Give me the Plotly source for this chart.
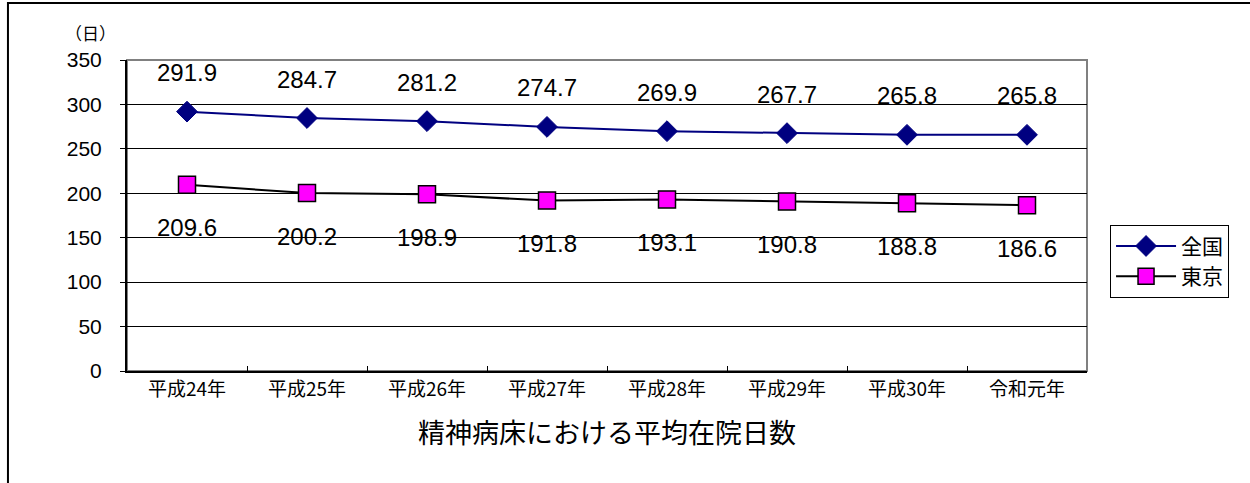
import plotly.graph_objects as go

categories = ["平成24年", "平成25年", "平成26年", "平成27年", "平成28年", "平成29年", "平成30年", "令和元年"]
zenkoku = [291.9, 284.7, 281.2, 274.7, 269.9, 267.7, 265.8, 265.8]
tokyo = [209.6, 200.2, 198.9, 191.8, 193.1, 190.8, 188.8, 186.6]
y_ticks = [0, 50, 100, 150, 200, 250, 300, 350]

NUM_FONT = "Liberation Sans, Arial, Noto Sans CJK JP, sans-serif"
CJK_FONT = "Noto Sans CJK JP, sans-serif"

fig = go.Figure()
fig.add_trace(go.Scatter(
    x=categories, y=zenkoku, name="全国", mode="lines+markers",
    line=dict(color="#000080", width=2),
    marker=dict(symbol="diamond", size=16, color="#000080", line=dict(color="#000080", width=1)),
))
fig.add_trace(go.Scatter(
    x=categories, y=tokyo, name="東京", mode="lines+markers",
    line=dict(color="#000000", width=2),
    marker=dict(symbol="square", size=17, color="#FF00FF", line=dict(color="#000000", width=1.5)),
))

annotations = []
for c, v in zip(categories, zenkoku):
    annotations.append(dict(x=c, y=v, text=f"{v:.1f}", showarrow=False, yshift=39,
                            font=dict(family=NUM_FONT, size=24, color="#000")))
for c, v in zip(categories, tokyo):
    annotations.append(dict(x=c, y=v, text=f"{v:.1f}", showarrow=False, yshift=-43,
                            font=dict(family=NUM_FONT, size=24, color="#000")))
annotations.append(dict(xref="paper", yref="paper", x=-0.0385, y=1.09, text="（日）", showarrow=False,
                        xanchor="center", yanchor="middle",
                        font=dict(family=CJK_FONT, size=17, color="#000")))

fig.update_layout(
    width=1250, height=483,
    margin=dict(l=127, r=163, t=60, b=112),
    paper_bgcolor="white", plot_bgcolor="white",
    showlegend=True,
    legend=dict(x=1.024, y=0.47, xanchor="left", yanchor="top",
                bordercolor="#000", borderwidth=1, bgcolor="white",
                font=dict(family=CJK_FONT, size=21, color="#000"),
                tracegroupgap=0, itemwidth=60),
    annotations=annotations,
    xaxis=dict(
        type="category", range=[-0.5, 7.5],
        showline=True, linecolor="#000", linewidth=2,
        ticks="inside", tickson="boundaries", ticklen=5, tickcolor="#000",
        showgrid=False, zeroline=False,
        tickfont=dict(family=CJK_FONT, size=19, color="#000"),
        title=dict(text="精神病床における平均在院日数", font=dict(family=CJK_FONT, size=27, color="#000"), standoff=24),
    ),
    yaxis=dict(
        range=[0, 350], tickvals=y_ticks,
        showline=True, linecolor="#000", linewidth=2,
        ticks="outside", ticklen=5, tickcolor="#000",
        showgrid=True, gridcolor="#000", gridwidth=1,
        zeroline=False,
        tickfont=dict(family=NUM_FONT, size=21, color="#000"),
        ticklabelstandoff=14,
    ),
    shapes=[
        dict(type="rect", xref="paper", yref="paper", x0=0, x1=1, y0=0, y1=1,
             line=dict(color="#808080", width=2), layer="below"),
        dict(type="rect", xref="paper", yref="paper", x0=-0.124, x1=1.3, y0=-0.5, y1=1.183,
             line=dict(color="#000", width=2), layer="below"),
    ],
)

fig.write_html("out.html", config={"displayModeBar": False},
               post_script="document.body.style.margin='0';document.body.style.overflow='hidden';")
